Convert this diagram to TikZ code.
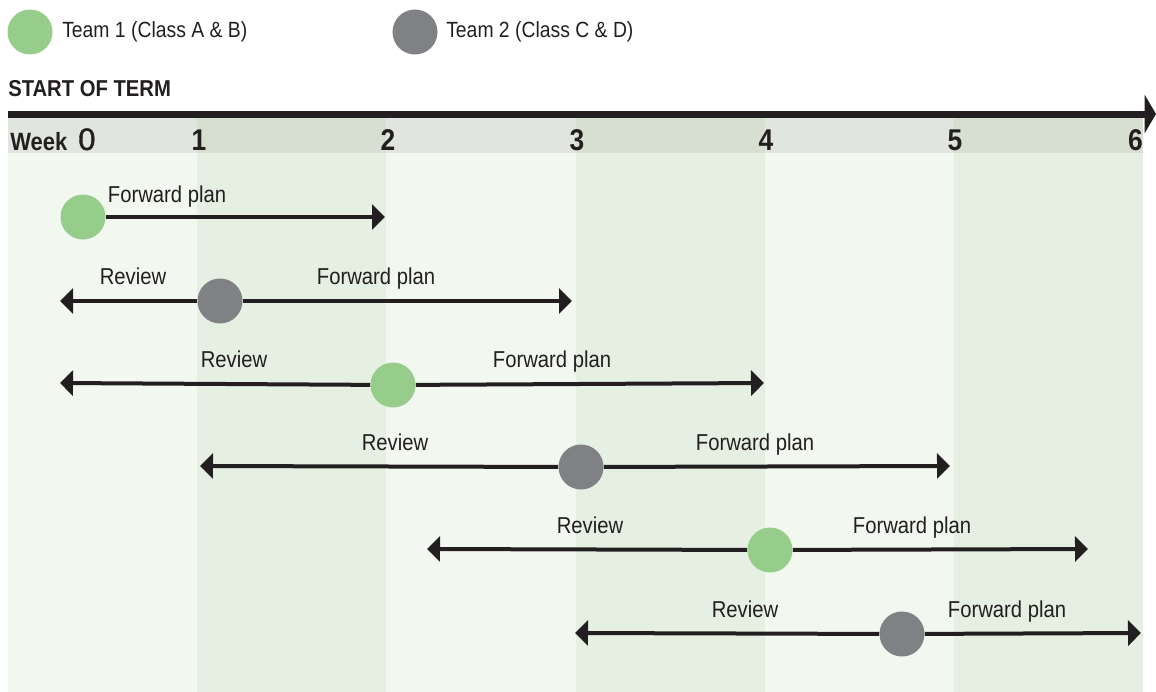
\documentclass[tikz,border=0pt]{standalone}
\usepackage{fontspec}
\setmainfont[FakeStretch=0.88]{Liberation Sans}
\newfontfamily\medfont[FakeBold=1.3]{Liberation Sans}
\usetikzlibrary{arrows.meta}
\definecolor{teamA}{HTML}{96CD8A}
\definecolor{teamB}{HTML}{808185}
\definecolor{ink}{HTML}{231F20}
\definecolor{hdrLight}{HTML}{E1E5DF}
\definecolor{hdrDark}{HTML}{D7E0D0}
\definecolor{bodyLight}{HTML}{F2F8F0}
\definecolor{bodyDark}{HTML}{E6F0E2}
\begin{document}
\begin{tikzpicture}[x=0.75pt,y=-0.75pt,
  dot/.style={circle,inner sep=0pt,minimum size=33.75pt},
  teamone/.style={dot,fill=teamA},
  teamtwo/.style={dot,fill=teamB},
  span/.style={draw=ink,line width=3pt,-{Triangle[length=9.75pt,width=18.75pt]}},
  lbl/.style={font=\fontsize{17.25}{20}\selectfont,text=ink,anchor=base,inner sep=0pt},
  legendtext/.style={font=\fontsize{16.5}{20}\selectfont,text=ink,anchor=west,inner sep=0pt},
  weeknum/.style={font=\bfseries\fontsize{22.5}{26}\selectfont,text=ink,anchor=base,inner sep=0pt},
]
\useasboundingbox (0,0) rectangle (1156,692);

% week columns: header band and body
\foreach \i in {0,...,5}{
  \pgfmathsetmacro{\xa}{8+189.17*\i}
  \pgfmathsetmacro{\xb}{8+189.17*(\i+1)}
  \ifodd\i
    \fill[hdrDark] (\xa,117) rectangle (\xb,153);
    \fill[bodyDark] (\xa,153) rectangle (\xb,692);
  \else
    \fill[hdrLight] (\xa,117) rectangle (\xb,153);
    \fill[bodyLight] (\xa,153) rectangle (\xb,692);
  \fi
}

% legend
\node[teamone] (leg1) at (30,32) {};
\node[legendtext] (leg1t) at (62,32) {Team 1 (Class A \& B)};
\node[teamtwo] (leg2) at (415,32) {};
\node[legendtext] (leg2t) at (446,32) {Team 2 (Class C \& D)};

% term axis
\node[font=\bfseries\fontsize{17.25}{20}\selectfont,text=ink,anchor=base west,inner sep=0pt] (start) at (8,97) {START OF TERM};
\coordinate (axisL) at (8,114);
\coordinate (axisR) at (1156,114);
\draw[ink,line width=5.25pt,-{Triangle[length=8.5pt,width=28.5pt]}] (axisL) -- (axisR);

% week numbers
\node[font=\bfseries\fontsize{18.75}{22}\selectfont,text=ink,anchor=base west,inner sep=0pt] (wk) at (10,150) {Week};
\node[font=\medfont\fontsize{23.25}{26}\selectfont,text=ink,anchor=base west,inner sep=0pt] (w0) at (78,150) {0};
\node[weeknum] (w1) at (199,150) {1};
\node[weeknum] (w2) at (388,150) {2};
\node[weeknum] (w3) at (577,150) {3};
\node[weeknum] (w4) at (766,150) {4};
\node[weeknum] (w5) at (955,150) {5};
\node[weeknum,anchor=base east] (w6) at (1143,150) {6};

% row 1
\node[teamone] (m1) at (83,217) {};
\coordinate (r1) at (385,217);
\draw[span] (m1) -- (r1);
\node[lbl] (f1) at (167,202) {Forward plan};

% row 2
\node[teamtwo] (m2) at (220,301) {};
\coordinate (l2) at (60,301);
\coordinate (r2) at (572,301);
\draw[span] (m2) -- (l2);
\draw[span] (m2) -- (r2);
\node[lbl] (v2) at (133,284) {Review};
\node[lbl] (f2) at (376,284) {Forward plan};

% row 3
\node[teamone] (m3) at (393,385) {};
\coordinate (l3) at (60,383);
\coordinate (r3) at (764,383);
\draw[span] (m3) -- (l3);
\draw[span] (m3) -- (r3);
\node[lbl] (v3) at (234,367) {Review};
\node[lbl] (f3) at (552,367) {Forward plan};

% row 4
\node[teamtwo] (m4) at (581,467) {};
\coordinate (l4) at (200,466);
\coordinate (r4) at (950,466);
\draw[span] (m4) -- (l4);
\draw[span] (m4) -- (r4);
\node[lbl] (v4) at (395,450) {Review};
\node[lbl] (f4) at (755,450) {Forward plan};

% row 5
\node[teamone] (m5) at (770,550) {};
\coordinate (l5) at (427,549);
\coordinate (r5) at (1088,549);
\draw[span] (m5) -- (l5);
\draw[span] (m5) -- (r5);
\node[lbl] (v5) at (590,533) {Review};
\node[lbl] (f5) at (912,533) {Forward plan};

% row 6
\node[teamtwo] (m6) at (902,634) {};
\coordinate (l6) at (575,633);
\coordinate (r6) at (1141,633);
\draw[span] (m6) -- (l6);
\draw[span] (m6) -- (r6);
\node[lbl] (v6) at (745,617) {Review};
\node[lbl] (f6) at (1007,617) {Forward plan};
\end{tikzpicture}
\end{document}
